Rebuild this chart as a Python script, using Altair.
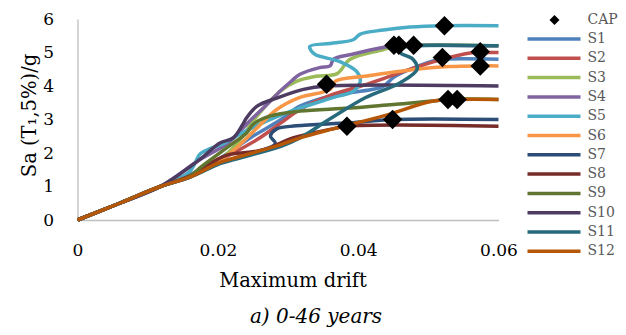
import altair as alt
import pandas as pd

# ---- data ----
series_names = ["S1", "S2", "S3", "S4", "S5", "S6", "S7", "S8", "S9", "S10", "S11", "S12"]
series_colors = ["#4F81BD", "#C0504D", "#9BBB59", "#8064A2", "#4BACC6", "#F79646",
                 "#2C4D75", "#772C2A", "#5F7530", "#4D3B62", "#276A7C", "#B65708"]

s1_drift = [0, 0.006, 0.0118, 0.016, 0.020, 0.0246, 0.029, 0.0317, 0.0364, 0.0435, 0.045, 0.0474, 0.0507, 0.052, 0.06]
s1_sa = [0, 0.5, 1.0, 1.35, 1.8, 2.45, 3.0, 3.4, 3.72, 3.98, 4.25, 4.5, 4.75, 4.8, 4.8]

s2_drift = [0, 0.006, 0.0118, 0.016, 0.020, 0.0256, 0.029, 0.0317, 0.036, 0.0412, 0.046, 0.0507, 0.0555, 0.0574, 0.06]
s2_sa = [0, 0.5, 1.0, 1.3, 1.75, 2.4, 2.9, 3.3, 3.72, 4.05, 4.4, 4.72, 4.97, 5.0, 5.0]

s3_drift = [0, 0.006, 0.0118, 0.016, 0.020, 0.0232, 0.025, 0.0289, 0.0312, 0.034, 0.037, 0.0388, 0.0435, 0.0458, 0.06]
s3_sa = [0, 0.5, 1.0, 1.3, 1.75, 2.4, 2.95, 3.85, 4.14, 4.29, 4.37, 4.79, 5.08, 5.2, 5.2]

s4_drift = [0, 0.006, 0.0118, 0.0174, 0.0215, 0.0245, 0.0270, 0.0289, 0.0305, 0.0317, 0.0345, 0.0360, 0.0365, 0.0390, 0.0435, 0.0451, 0.06]
s4_sa = [0, 0.5, 1.0, 1.8, 2.3, 2.95, 3.45, 3.85, 4.15, 4.35, 4.55, 4.6, 4.8, 4.94, 5.15, 5.2, 5.2]

s5_drift = [0, 0.006, 0.0118, 0.016, 0.0175, 0.0189, 0.0208, 0.0232, 0.0293, 0.0365, 0.0393, 0.0403, 0.0398, 0.0374, 0.0338, 0.0331, 0.036, 0.0393, 0.0403, 0.0436, 0.0474, 0.0523, 0.06]
s5_sa = [0, 0.5, 1.0, 1.45, 1.98, 2.13, 2.28, 2.57, 3.16, 3.66, 3.84, 4.14, 4.43, 4.73, 4.95, 5.18, 5.27, 5.38, 5.55, 5.67, 5.76, 5.8, 5.8]

s6_drift = [0, 0.006, 0.0118, 0.016, 0.019, 0.0222, 0.0256, 0.0284, 0.0317, 0.036, 0.0368, 0.0412, 0.0474, 0.053, 0.0574, 0.06]
s6_sa = [0, 0.5, 1.0, 1.3, 1.6, 2.07, 2.75, 3.3, 3.66, 3.9, 4.15, 4.3, 4.48, 4.58, 4.6, 4.6]

s7_drift = [0, 0.006, 0.0118, 0.016, 0.0203, 0.0246, 0.0282, 0.0275, 0.0284, 0.0312, 0.0388, 0.0449, 0.06]
s7_sa = [0, 0.5, 1.0, 1.28, 1.7, 1.97, 2.28, 2.5, 2.72, 2.81, 2.9, 3.0, 3.0]

s8_drift = [0, 0.006, 0.0118, 0.016, 0.019, 0.0215, 0.0245, 0.027, 0.0307, 0.0364, 0.0384, 0.06]
s8_sa = [0, 0.5, 1.0, 1.32, 1.7, 1.95, 2.02, 2.12, 2.45, 2.72, 2.8, 2.8]

s9_drift = [0, 0.006, 0.0118, 0.016, 0.0174, 0.0213, 0.0241, 0.0250, 0.0274, 0.0317, 0.0388, 0.0450, 0.0507, 0.0528, 0.06]
s9_sa = [0, 0.5, 1.0, 1.3, 1.55, 2.16, 2.6, 2.85, 3.1, 3.25, 3.34, 3.45, 3.55, 3.6, 3.6]

s10_drift = [0, 0.006, 0.0118, 0.0174, 0.0203, 0.0222, 0.0236, 0.0241, 0.0256, 0.0284, 0.0322, 0.0355, 0.06]
s10_sa = [0, 0.5, 1.0, 1.8, 2.3, 2.45, 2.87, 3.05, 3.4, 3.64, 3.9, 4.0, 4.0]

s11_drift = [0, 0.006, 0.0118, 0.016, 0.0203, 0.0246, 0.029, 0.0317, 0.036, 0.041, 0.046, 0.0484, 0.0478, 0.046, 0.0465, 0.0479, 0.06]
s11_sa = [0, 0.5, 1.0, 1.27, 1.68, 1.93, 2.2, 2.45, 3.02, 3.65, 4.1, 4.5, 4.8, 5.0, 5.15, 5.2, 5.2]

s12_drift = [0, 0.006, 0.0118, 0.016, 0.0203, 0.0246, 0.029, 0.0317, 0.0364, 0.0435, 0.0507, 0.0541, 0.06]
s12_sa = [0, 0.5, 1.0, 1.28, 1.72, 1.98, 2.25, 2.45, 2.72, 3.1, 3.55, 3.6, 3.6]

cap_drift = [0.0355, 0.0384, 0.0449, 0.0451, 0.0458, 0.0479, 0.0523, 0.0520, 0.0528, 0.0541, 0.0574, 0.0574]
cap_sa = [4.05, 2.8, 3.0, 5.22, 5.22, 5.22, 5.8, 4.85, 3.6, 3.6, 5.02, 4.6]

x_ticks = [0, 0.02, 0.04, 0.06]
y_ticks = [0, 1, 2, 3, 4, 5, 6]

all_drift = [s1_drift, s2_drift, s3_drift, s4_drift, s5_drift, s6_drift,
             s7_drift, s8_drift, s9_drift, s10_drift, s11_drift, s12_drift]
all_sa = [s1_sa, s2_sa, s3_sa, s4_sa, s5_sa, s6_sa,
          s7_sa, s8_sa, s9_sa, s10_sa, s11_sa, s12_sa]

rows = []
for name, ds, ss in zip(series_names, all_drift, all_sa):
    for i, (d, s) in enumerate(zip(ds, ss)):
        rows.append({"series": name, "drift": d, "sa": s, "idx": i})
lines_df = pd.DataFrame(rows)
cap_df = pd.DataFrame({"drift": cap_drift, "sa": cap_sa, "kind": ["CAP"] * len(cap_drift)})

FONT = "DejaVu Serif"

x_axis = alt.Axis(values=x_ticks, tickCount=4, title="Maximum drift",
                  labelExpr="datum.value == 0 ? '0' : format(datum.value, '.2f')",
                  labelFlush=False, labelOverlap=False,
                  titleX=215, titleY=60, titleBaseline="middle")
y_axis = alt.Axis(values=y_ticks, tickCount=7, title="Sa (T\u2081,5%)/g",
                  labelFlush=False, labelOverlap=False,
                  titleX=-48, titleY=96, titleAngle=270, titleBaseline="middle")

x_enc = alt.X("drift:Q", scale=alt.Scale(domain=[0, 0.06], nice=False), axis=x_axis)
y_enc = alt.Y("sa:Q", scale=alt.Scale(domain=[0, 6], nice=False), axis=y_axis)

lines = alt.Chart(lines_df).mark_line(interpolate="catmull-rom", strokeWidth=3.5).encode(
    x=x_enc,
    y=y_enc,
    color=alt.Color("series:N",
                    scale=alt.Scale(domain=series_names, range=series_colors),
                    legend=alt.Legend(title=None, orient="none", legendX=448, legendY=12,
                                      symbolType="stroke", symbolSize=2809, symbolStrokeWidth=3.5,
                                      labelFont=FONT, labelFontSize=14, labelColor="#595959",
                                      labelOffset=5, rowPadding=3.3, clipHeight=16)),
    order="idx:Q",
    detail="series:N",
)

points = alt.Chart(cap_df).mark_point(filled=True, color="black", size=380, opacity=1).encode(
    x=x_enc,
    y=y_enc,
    shape=alt.Shape("kind:N", scale=alt.Scale(domain=["CAP"], range=["diamond"]),
                    legend=alt.Legend(title=None, orient="none", legendX=470, legendY=-7,
                                      symbolSize=100, symbolFillColor="black",
                                      symbolStrokeColor="black", symbolStrokeWidth=0,
                                      labelFont=FONT, labelFontSize=14, labelColor="#595959",
                                      labelOffset=26, clipHeight=16)),
)

chart = alt.layer(lines, points).properties(
    width=421,
    height=201,
    autosize=alt.AutoSizeParams(type="none"),
    padding={"left": 69.5, "top": 11, "right": 119.5, "bottom": 107},
    title=alt.TitleParams("a) 0-46 years", orient="bottom", anchor="middle", dx=28,
                          font=FONT, fontSize=20, fontStyle="italic", fontWeight="normal",
                          color="black", offset=17, baseline="top"),
).configure_view(stroke=None).configure_axis(
    grid=False, ticks=False, domainColor="#BFBFBF", domainWidth=1.3,
    labelFont=FONT, labelFontSize=17, labelColor="black", labelPadding=22,
    titleFont=FONT, titleFontSize=19.5, titleFontWeight="normal", titleColor="black",
).configure_axisY(labelPadding=24)

chart.save("out.html", embed_options={"renderer": "svg", "actions": False})
